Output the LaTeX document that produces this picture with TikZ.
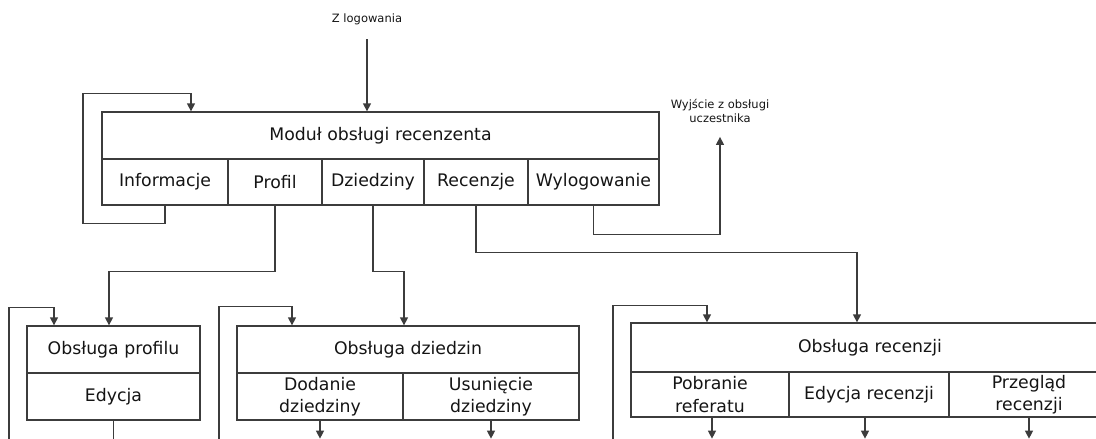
\documentclass[tikz,border=0pt]{standalone}
\usepackage{fontspec}
\setmainfont{DejaVu Sans}
\usetikzlibrary{arrows.meta}
\definecolor{linegray}{RGB}{60,60,60}
\definecolor{textgray}{RGB}{20,20,20}

\begin{document}
\begin{tikzpicture}[x=1pt, y=-1pt,
    box/.style={draw=linegray, line width=1.3pt, inner sep=0pt, align=center, text=textgray,
      font=\fontsize{17.3}{22.5}\selectfont},
    note/.style={inner sep=0pt, align=center, text=textgray, font=\fontsize{11.5}{14}\selectfont},
    arr/.style={draw=linegray, line width=1.3pt, -{Triangle[length=8pt,width=8pt]}},
    wire/.style={draw=linegray, line width=1.3pt}]
  \useasboundingbox (0,0) rectangle (1096,439);
  \clip (0,0) rectangle (1096,439);

  % main module
  \node[note] (zlog) at (367,19) {Z logowania};
  \node[box, minimum width=557pt, minimum height=47pt] (mod) at (380.5,135.5) {Moduł obsługi recenzenta};
  \node[box, minimum width=126pt, minimum height=46pt] (inf) at (165,182) {Informacje};
  \node[box, minimum width=94pt, minimum height=46pt] (prof) at (275,182) {Profil};
  \node[box, minimum width=102pt, minimum height=46pt] (dzi) at (373,182) {Dziedziny};
  \node[box, minimum width=104pt, minimum height=46pt] (rec) at (476,182) {Recenzje};
  \node[box, minimum width=131pt, minimum height=46pt] (wyl) at (593.5,182) {Wylogowanie};
  \node[note] (wyj) at (720,111) {Wyjście z obsługi\\uczestnika};

  % profile
  \node[box, minimum width=173pt, minimum height=47pt] (obsprof) at (113.5,349.5) {Obsługa profilu};
  \node[box, minimum width=173pt, minimum height=47pt] (edy) at (113.5,396.5) {Edycja};

  % domains
  \node[box, minimum width=342pt, minimum height=47pt] (obsdzi) at (408,349.5) {Obsługa dziedzin};
  \node[box, minimum width=166pt, minimum height=47pt] (dod) at (320,396.5) {Dodanie\\dziedziny};
  \node[box, minimum width=176pt, minimum height=47pt] (usu) at (491,396.5) {Usunięcie\\dziedziny};

  % reviews
  \node[box, minimum width=478pt, minimum height=49pt] (obsrec) at (870,347.5) {Obsługa recenzji};
  \node[box, minimum width=158pt, minimum height=45pt] (pob) at (710,394.5) {Pobranie\\referatu};
  \node[box, minimum width=160pt, minimum height=45pt] (edr) at (869,394.5) {Edycja recenzji};
  \node[box, minimum width=160pt, minimum height=45pt] (prz) at (1029,394.5) {Przegląd\\recenzji};

  \coordinate (pin) at (9,445);
  \coordinate (din) at (219,445);
  \coordinate (rin) at (613,445);

  \draw[arr, shorten <=14.5pt] (zlog.south) -- (zlog.south |- mod.north);
  \draw[arr] (inf.south) -- ++(0,18) -- ++(-82,0) |- ([xshift=-189.5pt,yshift=18pt]mod.north) -- ([xshift=-189.5pt]mod.north);
  \draw[arr, shorten >=14pt] (wyl.south) -- ++(0,29) -| (wyj.south);
  \draw[arr] (prof.south) -- ++(0,66) -| ([xshift=-4.5pt]obsprof.north);
  \draw[arr] (dzi.south) -- ++(0,66) -| ([xshift=-4pt]obsdzi.north);
  \draw[arr] (rec.south) -- ++(0,47) -| ([xshift=-13pt]obsrec.north);

  \draw[arr] (pin) |- ([xshift=-59.5pt,yshift=18pt]obsprof.north) -- ([xshift=-59.5pt]obsprof.north);
  \draw[arr] (din) |- ([xshift=-116pt,yshift=19pt]obsdzi.north) -- ([xshift=-116pt]obsdzi.north);
  \draw[arr] (rin) |- ([xshift=-163pt,yshift=17pt]obsrec.north) -- ([xshift=-163pt]obsrec.north);

  \draw[wire] (edy.south) -- ++(0,25);
  \draw[arr] (dod.south) -- ++(0,18);
  \draw[arr] (usu.south) -- ++(0,18);
  \draw[arr] ([xshift=2pt]pob.south) -- ++(0,21);
  \draw[arr] ([xshift=-4pt]edr.south) -- ++(0,21);
  \draw[arr] (prz.south) -- ++(0,21);
\end{tikzpicture}
\end{document}
